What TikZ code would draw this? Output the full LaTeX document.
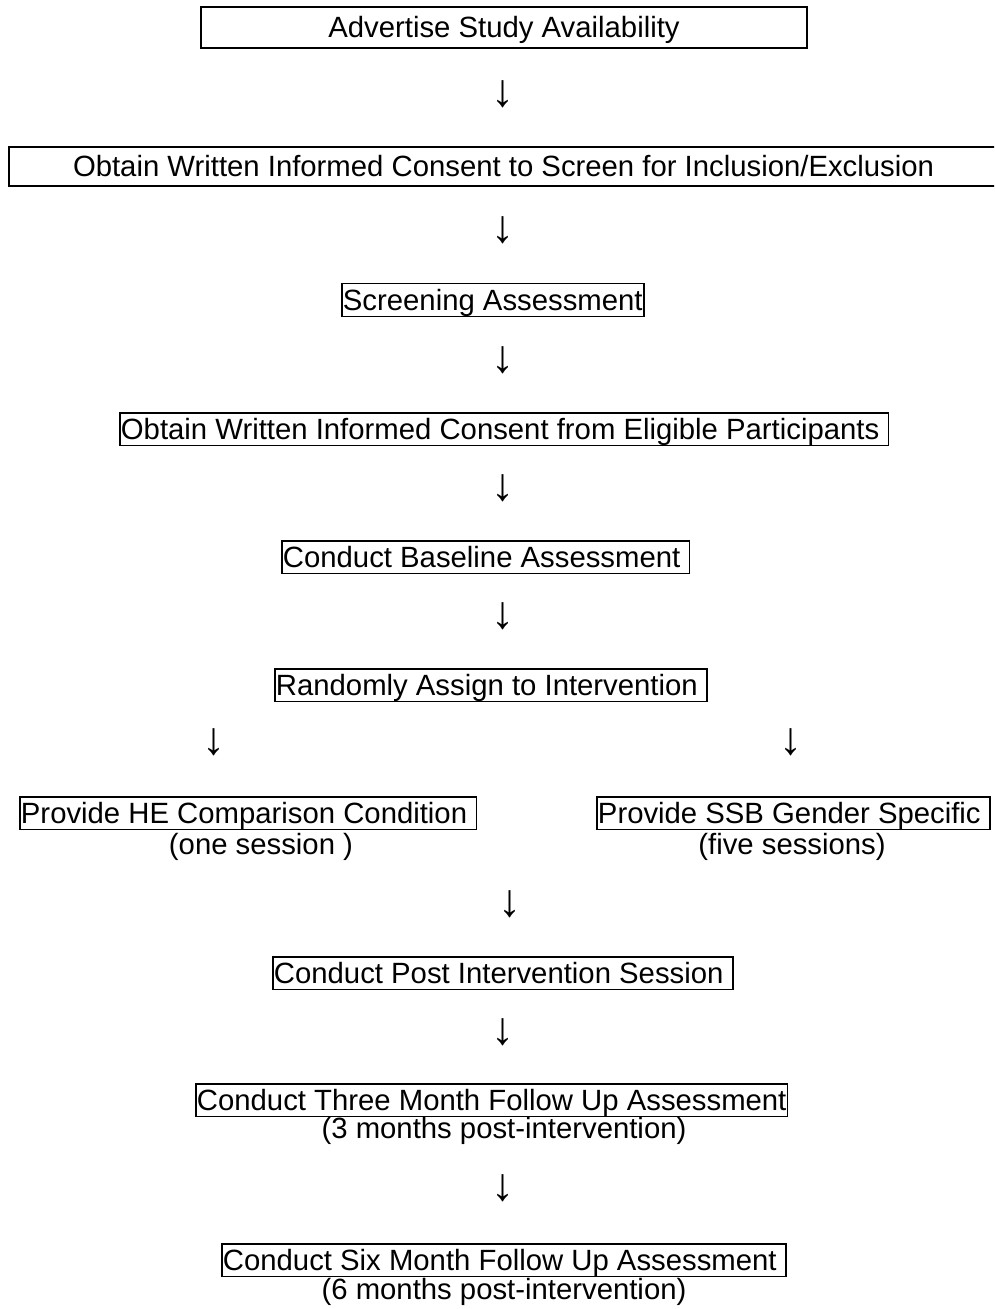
\documentclass[tikz,border=0pt]{standalone}
\usepackage{fontspec}
\setmainfont{Liberation Sans}
\newcommand\mystrut{\rule[-0.212em]{0pt}{1.117em}}
\newcommand\tsp{\ \hspace{8bp}}
\begin{document}
\begin{tikzpicture}[x=1bp,y=-1bp,
  every node/.style={font=\fontsize{29.3bp}{34bp}\selectfont},
  tbox/.style={draw,line width=1.5bp,inner sep=0pt,inner xsep=1.2bp,anchor=north west},
  wbox/.style={draw,line width=1.5bp,inner sep=0pt},
  note/.style={inner sep=0pt},
  arr/.style={inner sep=0pt,font=\fontsize{46bp}{50bp}\selectfont}]
\clip (0,0) rectangle (994,1309);
\node[wbox,minimum width=606bp,minimum height=41bp] (b1) at (504,27.5) {\mystrut Advertise Study Availability};
\node[arr] (a1) at (503,94) {↓};
\node[wbox,minimum width=989bp,minimum height=39bp] (b2) at (503.5,166.5) {\mystrut Obtain Written Informed Consent to Screen for Inclusion/Exclusion};
\node[arr] (a2) at (503,230) {↓};
\node[tbox] (b3) at (341,283) {\mystrut Screening Assessment};
\node[arr] (a3) at (503,360) {↓};
\node[tbox] (b4) at (119,412) {\mystrut Obtain Written Informed Consent from Eligible Participants\tsp};
\node[arr] (a4) at (503,488) {↓};
\node[tbox] (b5) at (281,540) {\mystrut Conduct Baseline Assessment\tsp};
\node[arr] (a5) at (503,616) {↓};
\node[tbox] (b6) at (274,668) {\mystrut Randomly Assign to Intervention\tsp};
\node[arr] (a6l) at (214,742) {↓};
\node[arr] (a6r) at (791,742) {↓};
\node[tbox] (b7) at (19,796) {\mystrut Provide HE Comparison Condition\tsp};
\node[note] (n7) at (261,847) {(one session )};
\node[tbox] (b8) at (596,796) {\mystrut Provide SSB Gender Specific\tsp};
\node[note] (n8) at (792,847) {(five sessions)};
\node[arr] (a7) at (510,904) {↓};
\node[tbox] (b9) at (272,956) {\mystrut Conduct Post Intervention Session\tsp};
\node[arr] (a8) at (503,1032) {↓};
\node[tbox] (b10) at (195,1083) {\mystrut Conduct Three Month Follow Up Assessment};
\node[note] (n10) at (504,1131) {(3 months post-intervention)};
\node[arr] (a9) at (503,1188) {↓};
\node[tbox] (b11) at (221,1243) {\mystrut Conduct Six Month Follow Up Assessment\tsp};
\node[note] (n11) at (504,1292) {(6 months post-intervention)};
\end{tikzpicture}
\end{document}
